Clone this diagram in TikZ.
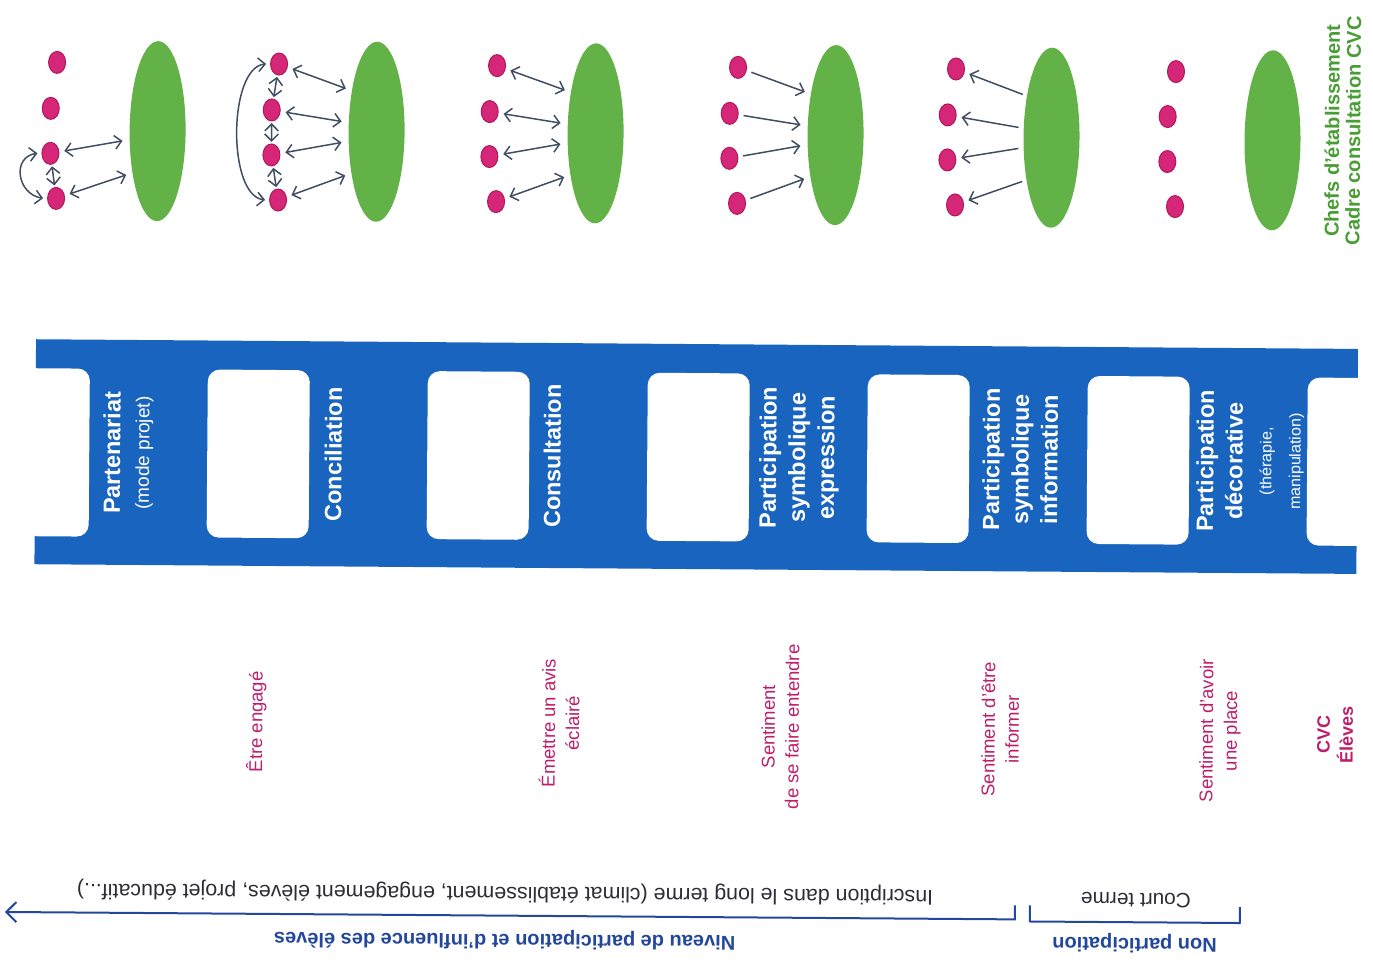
\documentclass[tikz,border=0pt]{standalone}
\usepackage{fontspec}
\setmainfont{Liberation Sans}
\usetikzlibrary{shapes.geometric,arrows.meta,calc}
\definecolor{ladderblue}{RGB}{24,100,190}
\definecolor{cgreen}{RGB}{98,178,72}
\definecolor{ctextgreen}{RGB}{72,158,52}
\definecolor{cpink}{RGB}{214,38,120}
\definecolor{cpinkd}{RGB}{175,25,92}
\definecolor{ctextpink}{RGB}{190,30,105}
\definecolor{carrow}{RGB}{65,78,98}
\definecolor{cnavy}{RGB}{35,72,155}
\definecolor{cgraytext}{RGB}{45,45,55}
\begin{document}
\begin{tikzpicture}[x=0.5pt,y=-0.5pt,
  grp/.style={ellipse,fill=cgreen,minimum width=28pt,minimum height=90pt,inner sep=0pt},
  pdot/.style={ellipse,fill=cpink,draw=cpinkd,line width=0.5pt,minimum width=8.5pt,minimum height=11pt,inner sep=0pt},
  link/.style={draw=carrow,line width=0.75pt},
  >={Straight Barb[length=3.4pt,width=6.8pt]},
  rung/.style={rotate=90,text=white,align=center,inner sep=0pt,font=\fontsize{11.7}{14.5}\selectfont\bfseries},
  feel/.style={rotate=90,text=ctextpink,align=center,inner sep=0pt,font=\fontsize{9.25}{12}\selectfont},
  navyline/.style={draw=cnavy,line width=1pt},
  flip/.style={rotate=180,inner sep=0pt}
]
\useasboundingbox (0,0) rectangle (1373,969);
\begin{scope}[rotate around={-0.42:(686,484)},transform shape]

% ---------- ladder ----------
\fill[ladderblue] (35,344) rectangle (1357,569);
\foreach \hx in {-13,207,427,647,867,1087,1307}
  \fill[white,rounded corners=6pt] (\hx,373) rectangle ++(102,168);

\node[rung] (l1) at (128,457) {Partenariat\\{\mdseries\fontsize{9.5}{11}\selectfont (mode projet)}};
\node[rung] (l2) at (333,457) {Conciliation};
\node[rung] (l3) at (552,457) {Consultation};
\node[rung] (l4) at (799,457) {Participation\\symbolique\\expression};
\node[rung] (l5) at (1020,457) {Participation\\symbolique\\information};
\node[rung] (l6) at (1250,457) {Participation\\décorative\\{\mdseries\fontsize{8}{9}\selectfont (thérapie,}\\{\mdseries\fontsize{8}{9}\selectfont manipulation)}};

% ---------- feelings ----------
\node[feel] (p1) at (258,725) {Être engagé};
\node[feel] (p2) at (561,724) {Émettre un avis\\éclairé};
\node[feel] (p3) at (782,726) {Sentiment\\de se faire entendre};
\node[feel] (p4) at (1002,727) {Sentiment d’être\\informer};
\node[feel] (p5) at (1222,727) {Sentiment d’avoir\\une place};
\node[feel,font=\fontsize{9}{11.5}\selectfont\bfseries] (p6) at (1337,730) {CVC\\Élèves};

\node[rotate=90,align=center,inner sep=0pt,text=ctextgreen,font=\fontsize{10}{10.5}\selectfont\bfseries] (leg) at (1340,126) {Chefs d’établissement\\Cadre consultation CVC};

% ---------- groups ----------
\node[grp] (e1) at (155,135) {};
\node[grp] (e2) at (374,134) {};
\node[grp] (e3) at (593,134) {};
\node[grp] (e4) at (833,134) {};
\node[grp] (e5) at (1049,135) {};
\node[grp] (e6) at (1270,136) {};

\node[pdot] (d11) at (54,67) {};
\node[pdot] (d12) at (48,113) {};
\node[pdot] (d13) at (48,158) {};
\node[pdot] (d14) at (54,203) {};

\node[pdot] (d21) at (276,67) {};
\node[pdot] (d22) at (269,113) {};
\node[pdot] (d23) at (269,158) {};
\node[pdot] (d24) at (276,203) {};

\node[pdot] (d31) at (494,67) {};
\node[pdot] (d32) at (487,113) {};
\node[pdot] (d33) at (487,158) {};
\node[pdot] (d34) at (494,203) {};

\node[pdot] (d41) at (735,67) {};
\node[pdot] (d42) at (727,113) {};
\node[pdot] (d43) at (727,158) {};
\node[pdot] (d44) at (735,203) {};

\node[pdot] (d51) at (953,67) {};
\node[pdot] (d52) at (945,113) {};
\node[pdot] (d53) at (945,158) {};
\node[pdot] (d54) at (953,203) {};

\node[pdot] (d61) at (1173,68) {};
\node[pdot] (d62) at (1165,113) {};
\node[pdot] (d63) at (1165,158) {};
\node[pdot] (d64) at (1173,203) {};

% group 1: partenariat
\draw[link,<->,shorten <=2.5pt] (d13) -- ($(e1)+(-35,10)$);
\draw[link,<->,shorten <=2.5pt] (d14) -- ($(e1)+(-31,44)$);
\draw[link,<->,shorten <=0.8pt,shorten >=0.8pt] (d13) -- (d14);
\draw[link,<->] ($(d13.west)+(-4,0)$) .. controls +(-26,4) and +(-26,-4) .. ($(d14.west)+(-4,0)$);

% group 2: conciliation
\draw[link,<->,shorten <=2.5pt] (d21) -- ($(e2)+(-31,-43)$);
\draw[link,<->,shorten <=2.5pt] (d22) -- ($(e2)+(-35,-10)$);
\draw[link,<->,shorten <=2.5pt] (d23) -- ($(e2)+(-35,11)$);
\draw[link,<->,shorten <=2.5pt] (d24) -- ($(e2)+(-31,44)$);
\draw[link,<->,shorten <=0.8pt,shorten >=0.8pt] (d21) -- (d22);
\draw[link,<->,shorten <=0.8pt,shorten >=0.8pt] (d22) -- (d23);
\draw[link,<->,shorten <=0.8pt,shorten >=0.8pt] (d23) -- (d24);
\draw[link,<->] ($(d21.west)+(-4,0)$) .. controls +(-38,4) and +(-38,-4) .. ($(d24.west)+(-4,0)$);

% group 3: consultation
\draw[link,<->,shorten <=2.5pt] (d31) -- ($(e3)+(-31,-43)$);
\draw[link,<->,shorten <=2.5pt] (d32) -- ($(e3)+(-35,-10)$);
\draw[link,<->,shorten <=2.5pt] (d33) -- ($(e3)+(-35,11)$);
\draw[link,<->,shorten <=2.5pt] (d34) -- ($(e3)+(-31,44)$);

% group 4: expression
\draw[link,->,shorten <=2.5pt] (d41) -- ($(e4)+(-31,-43)$);
\draw[link,->,shorten <=2.5pt] (d42) -- ($(e4)+(-35,-10)$);
\draw[link,->,shorten <=2.5pt] (d43) -- ($(e4)+(-35,11)$);
\draw[link,->,shorten <=2.5pt] (d44) -- ($(e4)+(-31,44)$);

% group 5: information
\draw[link,->,shorten >=2.5pt] ($(e5)+(-29,-43)$) -- (d51);
\draw[link,->,shorten >=2.5pt] ($(e5)+(-33,-10)$) -- (d52);
\draw[link,->,shorten >=2.5pt] ($(e5)+(-33,11)$) -- (d53);
\draw[link,->,shorten >=2.5pt] ($(e5)+(-29,44)$) -- (d54);

% ---------- bottom scale ----------
\node[flip,text=cgraytext,font=\fontsize{10.7}{12}\selectfont] (inscr) at (508,894) {Inscription dans le long terme (climat établissement, engagement élèves, projet éducatif...)};
\node[flip,text=cgraytext,font=\fontsize{10.4}{12}\selectfont] (court) at (1139,897) {Court terme};
\node[flip,text=cnavy,font=\fontsize{10}{12}\selectfont\bfseries] (niv) at (508,941) {Niveau de participation et d’influence des élèves};
\node[flip,text=cnavy,font=\fontsize{10}{12}\selectfont\bfseries] (nonp) at (1138,940) {Non participation};

\coordinate (tip) at (8,917);
\coordinate (lbot) at (1018,917);
\coordinate (ltop) at (1018,903);
\coordinate (rbl) at (1033,919);
\coordinate (rtl) at (1033,903);
\coordinate (rbr) at (1243,919);
\coordinate (rtr) at (1243,903);
\draw[navyline,-{Straight Barb[length=5pt,width=10pt]}] (ltop) -- (lbot) -- (tip);
\draw[navyline] (rtl) -- (rbl) -- (rbr) -- (rtr);
\end{scope}
\end{tikzpicture}
\end{document}
